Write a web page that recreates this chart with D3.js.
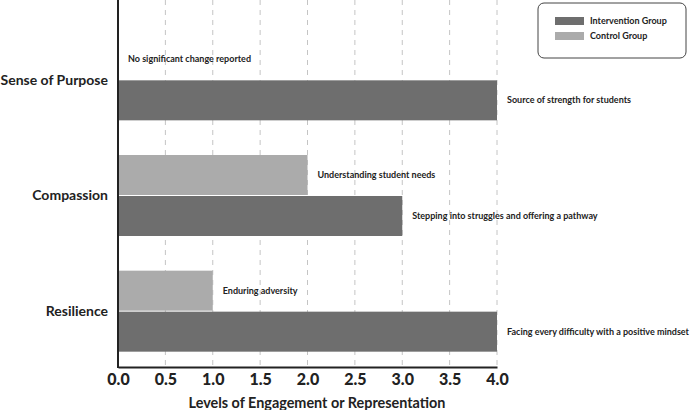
<!DOCTYPE html>
<html>
<head>
<meta charset="utf-8">
<script src="https://cdn.jsdelivr.net/npm/d3@7"></script>
<style>
  body { margin: 0; background: #fff; }
  svg { font-family: Lato, "Noto Sans", sans-serif; font-weight: bold; }
</style>
</head>
<body>
<div id="chart"></div>
<script>
// data
const categories = ["Sense of Purpose", "Compassion", "Resilience"];
const interventionValues = [4, 3, 4];
const controlValues = [0, 2, 1];
const interventionNotes = ["Source of strength for students", "Stepping into struggles and offering a pathway", "Facing every difficulty with a positive mindset"];
const controlNotes = ["No significant change reported", "Understanding student needs", "Enduring adversity"];
const xTicks = [0, 0.5, 1, 1.5, 2, 2.5, 3, 3.5, 4];

const width = 694, height = 410;
const left = 118, right = 497, bottom = 367;
const barH = 40;

const svg = d3.select("#chart").append("svg")
    .attr("width", width)
    .attr("height", height);

const x = d3.scaleLinear().domain([0, 4]).range([left, right]);
const y = d3.scaleBand().domain(categories).range([22, 369]);

const darkCol = "#6e6e6e", lightCol = "#ababab";

// grid
svg.append("g")
  .selectAll("line")
  .data(xTicks.slice(1))
  .enter().append("line")
    .attr("x1", d => x(d)).attr("x2", d => x(d))
    .attr("y1", 0).attr("y2", bottom)
    .attr("stroke", "#c4c4c4")
    .attr("stroke-width", 1)
    .attr("stroke-dasharray", "5,5");

const rows = categories.map((c, i) => ({
  cat: c, inter: interventionValues[i], ctrl: controlValues[i],
  interNote: interventionNotes[i], ctrlNote: controlNotes[i]
}));

const mid = d => y(d.cat) + y.bandwidth() / 2;

// control bars
svg.append("g").selectAll("rect")
  .data(rows.filter(d => d.ctrl > 0))
  .enter().append("rect")
    .attr("x", x(0))
    .attr("y", d => mid(d) - barH - 0.5)
    .attr("width", d => x(d.ctrl) - x(0))
    .attr("height", barH)
    .attr("fill", lightCol);

// intervention bars
svg.append("g").selectAll("rect")
  .data(rows)
  .enter().append("rect")
    .attr("x", x(0))
    .attr("y", d => mid(d) + 0.5)
    .attr("width", d => x(d.inter) - x(0))
    .attr("height", barH)
    .attr("fill", darkCol);

// notes
svg.append("g").selectAll("text")
  .data(rows)
  .enter().append("text")
    .attr("x", d => x(d.ctrl) + 10)
    .attr("y", d => mid(d) - barH / 2 - 0.5)
    .attr("dy", "0.35em")
    .attr("font-size", 9)
    .attr("fill", "#222")
    .text(d => d.ctrlNote);

svg.append("g").selectAll("text")
  .data(rows)
  .enter().append("text")
    .attr("x", d => x(d.inter) + 10)
    .attr("y", d => mid(d) + barH / 2 + 0.5)
    .attr("dy", "0.35em")
    .attr("font-size", 9)
    .attr("fill", "#222")
    .text(d => d.interNote);

// axes
const xAxis = svg.append("g")
    .attr("transform", `translate(0,${bottom})`)
    .call(d3.axisBottom(x).tickValues(xTicks).tickFormat(d3.format(".1f")).tickSize(0).tickPadding(7));
xAxis.select(".domain").attr("stroke", "#222").attr("stroke-width", 2);
xAxis.selectAll("text")
    .attr("font-size", 16)
    .attr("font-family", "Lato, sans-serif")
    .attr("font-weight", 900)
    .attr("fill", "#222");

svg.append("line")
    .attr("x1", left).attr("x2", left)
    .attr("y1", 0).attr("y2", bottom + 1)
    .attr("stroke", "#222").attr("stroke-width", 2);

svg.append("g").selectAll("text")
  .data(categories)
  .enter().append("text")
    .attr("x", 108)
    .attr("y", d => y(d) + y.bandwidth() / 2)
    .attr("dy", "0.35em")
    .attr("text-anchor", "end")
    .attr("font-size", 14)
    .attr("fill", "#222")
    .text(d => d);

svg.append("text")
    .attr("x", 317)
    .attr("y", 403)
    .attr("dy", "0.35em")
    .attr("text-anchor", "middle")
    .attr("font-size", 14.4)
    .attr("fill", "#222")
    .text("Levels of Engagement or Representation");

// legend
const legend = svg.append("g").attr("transform", "translate(538,3)");
legend.append("rect")
    .attr("width", 148).attr("height", 55)
    .attr("rx", 6)
    .attr("fill", "#fff")
    .attr("stroke", "#444").attr("stroke-width", 1);
const legendItems = [["Intervention Group", darkCol], ["Control Group", lightCol]];
legendItems.forEach((it, i) => {
  legend.append("rect")
    .attr("x", 17).attr("y", 14 + i * 15)
    .attr("width", 29).attr("height", 8)
    .attr("fill", it[1]);
  legend.append("text")
    .attr("x", 52).attr("y", 18 + i * 15)
    .attr("dy", "0.35em")
    .attr("font-size", 9)
    .attr("fill", "#222")
    .text(it[0]);
});
</script>
</body>
</html>
